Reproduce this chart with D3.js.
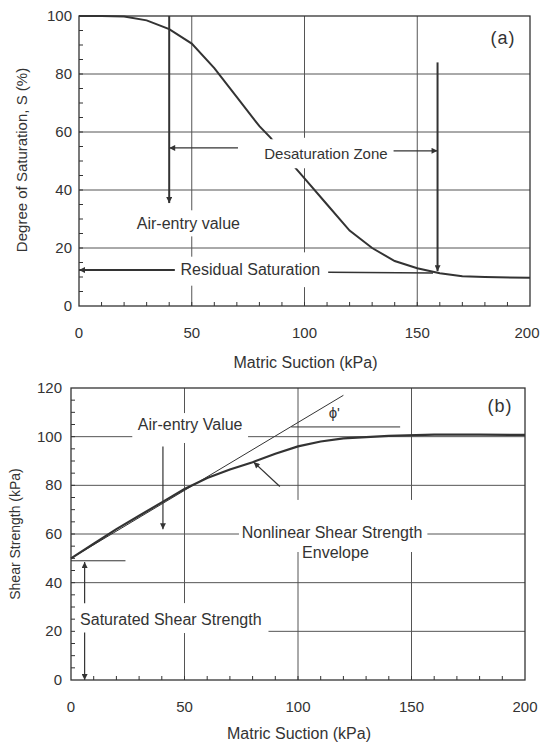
<!DOCTYPE html>
<html>
<head>
<meta charset="utf-8">
<script src="https://cdn.jsdelivr.net/npm/d3@7"></script>
<style>
  body { margin: 0; background: #fff; }
  svg text { font-family: "Liberation Sans", Arial, sans-serif; fill: #333; }
</style>
</head>
<body>
<div id="chart"></div>
<script>
// (a) soil-water characteristic curve
var suctionA   = [0, 10, 20, 30, 40, 50, 60, 70, 80, 85, 90, 100, 110, 120, 130, 140, 150, 160, 170, 180, 200];
var saturation = [100, 100, 99.8, 98.5, 95.5, 90.5, 82, 72, 62, 58, 53, 44, 35, 26, 20, 15.5, 13, 11.3, 10.3, 10, 9.7];
// (b) shear strength envelope
var suctionB = [0, 10, 20, 30, 40, 50, 60, 70, 80, 90, 100, 110, 120, 140, 160, 180, 200];
var shear    = [50, 56, 62, 67.5, 73, 78.5, 83, 86.5, 89.5, 93, 96, 98, 99.3, 100.3, 100.8, 100.8, 100.7];
var phiSuction = [0, 120];
var phiShear   = [50, 117];

var xTicks  = [0, 50, 100, 150, 200];
var yTicksA = [0, 20, 40, 60, 80, 100];
var yTicksB = [0, 20, 40, 60, 80, 100, 120];

var width = 541, height = 746;
var ink = "#333";

var svg = d3.select("#chart").append("svg")
    .attr("width", width)
    .attr("height", height);

var defs = svg.append("defs");
defs.append("marker")
    .attr("id", "arrow")
    .attr("viewBox", "0 0 10 10")
    .attr("refX", 10).attr("refY", 5)
    .attr("markerWidth", 10).attr("markerHeight", 6)
    .attr("markerUnits", "userSpaceOnUse")
    .attr("orient", "auto")
  .append("path")
    .attr("d", "M0,0 L10,5 L0,10 Z")
    .style("fill", ink);

function panel(opts) {
  var x = d3.scaleLinear().domain([0, 200]).range(opts.xRange);
  var y = d3.scaleLinear().domain([0, opts.yMax]).range(opts.yRange);
  var g = svg.append("g");

  // gridlines (broken where the notes sit)
  opts.hGrid.forEach(function(h) {
    h.segs.forEach(function(s) {
      g.append("line")
        .attr("x1", x(s[0])).attr("x2", x(s[1]))
        .attr("y1", y(h.v)).attr("y2", y(h.v))
        .style("stroke", "#555").style("stroke-width", 1);
    });
  });
  opts.vGrid.forEach(function(v) {
    v.segs.forEach(function(s) {
      g.append("line")
        .attr("x1", x(v.v)).attr("x2", x(v.v))
        .attr("y1", y(s[0])).attr("y2", y(s[1]))
        .style("stroke", "#555").style("stroke-width", 1);
    });
  });

  // frame
  g.append("rect")
    .attr("x", x(0)).attr("y", y(opts.yMax))
    .attr("width", x(200) - x(0)).attr("height", y(0) - y(opts.yMax))
    .style("fill", "none").style("stroke", ink).style("stroke-width", 1.3);

  // minor inward ticks
  g.selectAll(".xt").data(d3.range(10, 200, 10)).enter().append("line")
    .attr("x1", function(d) { return x(d); }).attr("x2", function(d) { return x(d); })
    .attr("y1", y(0)).attr("y2", y(0) - 4)
    .style("stroke", ink);
  g.selectAll(".yt").data(d3.range(5, opts.yMax, 5)).enter().append("line")
    .attr("x1", x(0)).attr("x2", x(0) + 4)
    .attr("y1", function(d) { return y(d); }).attr("y2", function(d) { return y(d); })
    .style("stroke", ink);

  // tick labels (last one kept inside the page)
  g.selectAll(".xl").data(xTicks).enter().append("text")
    .attr("x", function(d) { return Math.min(x(d), width - 14); })
    .attr("y", y(0) + 32)
    .attr("text-anchor", "middle")
    .style("font-size", "15px")
    .text(function(d) { return d; });
  g.selectAll(".yl").data(opts.yTicks).enter().append("text")
    .attr("x", x(0) - opts.yLabelGap)
    .attr("y", function(d) { return y(d) + 5; })
    .attr("text-anchor", "end")
    .style("font-size", "15px")
    .text(function(d) { return d; });

  // axis titles
  g.append("text")
    .attr("x", (x(0) + x(200)) / 2 + 1)
    .attr("y", opts.xTitleY)
    .attr("text-anchor", "middle")
    .style("font-size", "16px")
    .text("Matric Suction (kPa)");
  g.append("text")
    .attr("transform", "translate(" + opts.yTitleX + "," + opts.yTitleY + ") rotate(-90)")
    .attr("text-anchor", "middle")
    .style("font-size", opts.yTitleSize + "px")
    .text(opts.yTitle);

  g.append("text")
    .attr("x", x(opts.tag[0])).attr("y", y(opts.tag[1]))
    .attr("text-anchor", "middle")
    .style("font-size", "18px")
    .style("letter-spacing", "1px")
    .text(opts.tagText);

  return { g: g, x: x, y: y };
}

function seg(p, a, b, arrow, w) {
  var l = p.g.append("line")
    .attr("x1", p.x(a[0])).attr("y1", p.y(a[1]))
    .attr("x2", p.x(b[0])).attr("y2", p.y(b[1]))
    .style("stroke", ink).style("stroke-width", w || 1.3);
  if (arrow) l.attr("marker-end", "url(#arrow)");
}
function note(p, at, txt, size, anchor, padY) {
  var t = p.g.append("text")
    .attr("x", p.x(at[0])).attr("y", p.y(at[1]))
    .attr("text-anchor", anchor || "middle")
    .style("font-size", (size || 16) + "px")
    .text(txt);
  if (padY) {
    // white patch so lines stop short of the note
    var bb = t.node().getBBox();
    p.g.insert("rect", function() { return t.node(); })
      .attr("x", bb.x - 3).attr("y", bb.y - padY)
      .attr("width", bb.width + 6).attr("height", bb.height + 2 * padY)
      .style("fill", "#fff");
  }
}

// ---- panel (a)
var a = panel({
  xRange: [79, 530], yRange: [306, 16], yMax: 100,
  yTicks: yTicksA, yLabelGap: 7,
  xTitleY: 368, yTitleX: 27, yTitleY: 160, yTitleSize: 15,
  yTitle: "Degree of Saturation, S (%)",
  tag: [188, 90.3], tagText: "(a)",
  hGrid: [20, 40, 60, 80].map(function(v) { return { v: v, segs: [[0, 200]] }; }),
  vGrid: [
    { v: 50,  segs: [[0, 7], [17, 24], [33, 100]] },
    { v: 100, segs: [[0, 6.5], [18.5, 48], [58, 100]] },
    { v: 150, segs: [[0, 100]] }
  ]
});

a.g.append("path")
  .datum(d3.zip(suctionA, saturation))
  .attr("d", d3.line().x(function(d) { return a.x(d[0]); }).y(function(d) { return a.y(d[1]); }))
  .style("fill", "none").style("stroke", ink).style("stroke-width", 2);

seg(a, [40, 100], [40, 35.5], true, 2);
note(a, [48.5, 26.5], "Air-entry value");
seg(a, [70.5, 54.5], [40, 54.5], true, 1.2);
seg(a, [139.5, 53.5], [159, 53.5], true, 1.2);
note(a, [109.5, 50.6], "Desaturation Zone", 15, "middle", 6);
seg(a, [159, 84], [159, 12], true, 2);
seg(a, [42.5, 12.4], [0, 12.4], true, 2);
note(a, [76, 10.6], "Residual Saturation");
seg(a, [110.5, 11.6], [157, 11.4], false, 1.5);

// ---- panel (b)
var b = panel({
  xRange: [71, 525], yRange: [680, 388], yMax: 120,
  yTicks: yTicksB, yLabelGap: 9,
  xTitleY: 739, yTitleX: 20, yTitleY: 534, yTitleSize: 14,
  yTitle: "Shear Strength (kPa)",
  tag: [189, 110], tagText: "(b)",
  hGrid: [
    { v: 20,  segs: [[87, 200]] },
    { v: 40,  segs: [[0, 200]] },
    { v: 60,  segs: [[0, 74], [157, 200]] },
    { v: 80,  segs: [[0, 200]] },
    { v: 100, segs: [[0, 27], [78, 200]] }
  ],
  vGrid: [
    { v: 50,  segs: [[0, 19.3], [31.6, 97.4], [109.7, 120]] },
    { v: 100, segs: [[0, 52.6], [74, 120]] },
    { v: 150, segs: [[0, 52.6], [74, 120]] }
  ]
});

b.g.append("path")
  .datum(d3.zip(phiSuction, phiShear))
  .attr("d", d3.line().x(function(d) { return b.x(d[0]); }).y(function(d) { return b.y(d[1]); }))
  .style("fill", "none").style("stroke", ink).style("stroke-width", 1);
b.g.append("path")
  .datum(d3.zip(suctionB, shear))
  .attr("d", d3.line().x(function(d) { return b.x(d[0]); }).y(function(d) { return b.y(d[1]); }))
  .style("fill", "none").style("stroke", ink).style("stroke-width", 2.2);

seg(b, [97, 104], [145, 104], false, 1);
note(b, [116, 107.5], "\u03d5'", 15);
note(b, [52.5, 102.6], "Air-entry Value");
seg(b, [40.5, 96], [40.5, 62], true, 1.2);
seg(b, [92, 79.5], [80.5, 89.5], true, 1.2);
note(b, [115, 58.3], "Nonlinear Shear Strength");
note(b, [116.5, 50], "Envelope");
seg(b, [0, 49], [24, 49], false, 1);
seg(b, [6, 31.5], [6, 48.5], true, 1.2);
seg(b, [6, 19.5], [6, 0], true, 1.2);
note(b, [4, 22.6], "Saturated Shear Strength", 16, "start");
</script>
</body>
</html>
